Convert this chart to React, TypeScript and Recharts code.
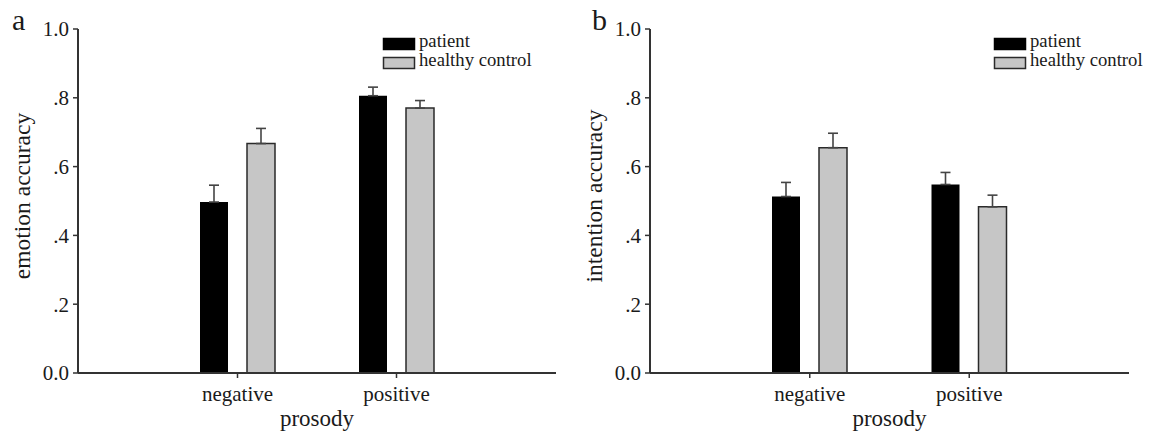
import React from "react";
import { BarChart, Bar, XAxis, YAxis, ErrorBar, Legend } from "recharts";

const categories = ["negative", "positive"];
const seriesNames = ["patient", "healthy control"];
const yTicks = [0, 0.2, 0.4, 0.6, 0.8, 1.0];
const yTickLabels = ["0.0", ".2", ".4", ".6", ".8", "1.0"];

// panel a: emotion accuracy
const emotionPatient = [0.497, 0.806];
const emotionPatientErr = [0.049, 0.025];
const emotionControl = [0.667, 0.77];
const emotionControlErr = [0.044, 0.022];

// panel b: intention accuracy
const intentionPatient = [0.513, 0.548];
const intentionPatientErr = [0.041, 0.035];
const intentionControl = [0.655, 0.483];
const intentionControlErr = [0.042, 0.034];

const FONT = '"Liberation Serif", "Times New Roman", serif';
const INK = "#1a1a1a";
const AXIS = "#333";
const GREY = "#c6c6c6";

function buildRows(
  patient: number[],
  patientErr: number[],
  control: number[],
  controlErr: number[]
) {
  return categories.map((name, i) => ({
    name,
    patient: patient[i],
    patientErr: [0, patientErr[i]],
    control: control[i],
    controlErr: [0, controlErr[i]],
  }));
}

function LegendBox() {
  return (
    <svg width={170} height={42} style={{ display: "block", overflow: "visible" }}>
      <rect x={0.5} y={5.5} width={31} height={11} fill="#000" stroke="#000" strokeWidth={1.5} />
      <text x={36} y={13.5} fontFamily={FONT} fontSize={18.7} fill={INK}>
        {seriesNames[0]}
      </text>
      <rect x={0.5} y={24.5} width={31} height={11} fill={GREY} stroke="#2a2a2a" strokeWidth={1.5} />
      <text x={36} y={33} fontFamily={FONT} fontSize={18.7} fill={INK}>
        {seriesNames[1]}
      </text>
    </svg>
  );
}

interface PanelProps {
  letter: string;
  letterX: number;
  yLabel: string;
  yLabelX: number;
  rows: ReturnType<typeof buildRows>;
  width: number;
  yAxisWidth: number;
  marginRight: number;
  legendLeft: number;
}

function Panel({
  letter,
  letterX,
  yLabel,
  yLabelX,
  rows,
  width,
  yAxisWidth,
  marginRight,
  legendLeft,
}: PanelProps) {
  const plotLeft = yAxisWidth;
  const plotRight = width - marginRight;
  const midX = (plotLeft + plotRight) / 2;

  return (
    <BarChart
      width={width}
      height={437}
      data={rows}
      margin={{ top: 29, right: marginRight, left: 0, bottom: 0 }}
      barGap={19}
      style={{ fontFamily: FONT }}
    >
      <XAxis
        dataKey="name"
        height={64}
        padding={{ left: 80, right: 80 }}
        axisLine={{ stroke: AXIS, strokeWidth: 2 }}
        tickLine={{ stroke: AXIS, strokeWidth: 1.5 }}
        tickSize={5}
        tickMargin={8}
        tick={{ fontSize: 21, fill: INK, fontFamily: FONT }}
        label={() => (
          <text x={midX} y={426} textAnchor="middle" fontSize={23} fill={INK} fontFamily={FONT}>
            prosody
          </text>
        )}
      />
      <YAxis
        type="number"
        domain={[0, 1]}
        ticks={yTicks}
        interval={0}
        width={yAxisWidth}
        tickFormatter={(v: number) => yTickLabels[yTicks.indexOf(v)]}
        axisLine={{ stroke: AXIS, strokeWidth: 2 }}
        tickLine={{ stroke: AXIS, strokeWidth: 1.5 }}
        tickSize={5}
        tickMargin={4}
        tick={{ fontSize: 21, fill: INK, fontFamily: FONT }}
        label={() => (
          <g>
            <text x={letterX} y={30} fontSize={30} fill={INK} fontFamily={FONT}>
              {letter}
            </text>
            <text
              x={yLabelX}
              y={196}
              transform={`rotate(-90 ${yLabelX} 196)`}
              textAnchor="middle"
              dominantBaseline="central"
              fontSize={23.5}
              fill={INK}
              fontFamily={FONT}
            >
              {yLabel}
            </text>
          </g>
        )}
      />
      <Legend
        layout="vertical"
        align="center"
        verticalAlign="middle"
        content={() => <LegendBox />}
        wrapperStyle={{ left: legendLeft, top: 33, width: 170, height: 42 }}
      />
      <Bar dataKey="patient" name={seriesNames[0]} fill="#000" barSize={28} isAnimationActive={false}>
        <ErrorBar dataKey="patientErr" direction="y" width={5} stroke="#444" strokeWidth={1.6} />
      </Bar>
      <Bar
        dataKey="control"
        name={seriesNames[1]}
        fill={GREY}
        stroke="#2a2a2a"
        strokeWidth={1.5}
        barSize={28}
        isAnimationActive={false}
      >
        <ErrorBar dataKey="controlErr" direction="y" width={5} stroke="#444" strokeWidth={1.6} />
      </Bar>
    </BarChart>
  );
}

export default function App() {
  const emotionRows = buildRows(emotionPatient, emotionPatientErr, emotionControl, emotionControlErr);
  const intentionRows = buildRows(
    intentionPatient,
    intentionPatientErr,
    intentionControl,
    intentionControlErr
  );

  return (
    <div
      style={{
        position: "absolute",
        left: 0,
        top: 0,
        width: 1149,
        height: 437,
        background: "#fff",
        fontFamily: FONT,
        overflow: "hidden",
      }}
    >
      <div style={{ position: "absolute", left: 0, top: 0 }}>
        <Panel
          letter="a"
          letterX={12}
          yLabel="emotion accuracy"
          yLabelX={22}
          rows={emotionRows}
          width={575}
          yAxisWidth={78}
          marginRight={19}
          legendLeft={383}
        />
      </div>
      <div style={{ position: "absolute", left: 575, top: 0 }}>
        <Panel
          letter="b"
          letterX={17}
          yLabel="intention accuracy"
          yLabelX={19}
          rows={intentionRows}
          width={574}
          yAxisWidth={75}
          marginRight={20}
          legendLeft={419}
        />
      </div>
    </div>
  );
}
